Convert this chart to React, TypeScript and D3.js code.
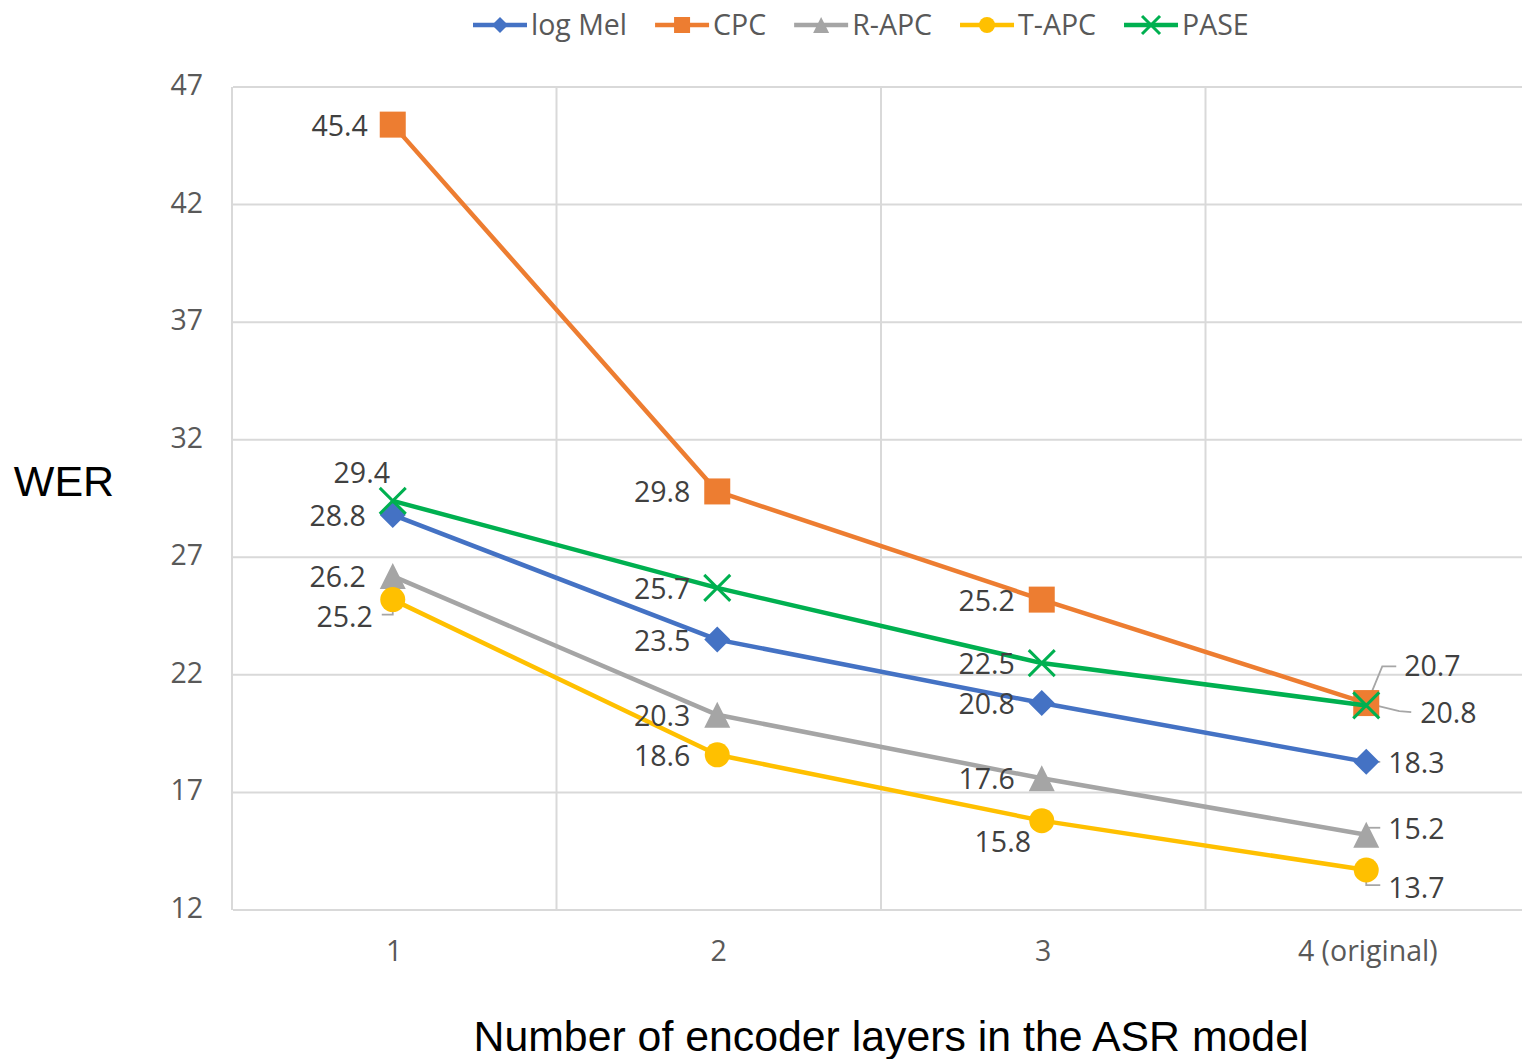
import React, { useEffect, useRef } from "react";
import * as d3 from "d3";

const categories = ["1", "2", "3", "4 (original)"];
const seriesNames = ["log Mel", "CPC", "R-APC", "T-APC", "PASE"];
const logMel = [28.8, 23.5, 20.8, 18.3];
const cpc = [45.4, 29.8, 25.2, 20.8];
const rApc = [26.2, 20.3, 17.6, 15.2];
const tApc = [25.2, 18.6, 15.8, 13.7];
const pase = [29.4, 25.7, 22.5, 20.7];
const yTicks = [12, 17, 22, 27, 32, 37, 42, 47];

const colors = ["#4472C4", "#ED7D31", "#A5A5A5", "#FFC000", "#00B050"];
const markers = ["diamond", "square", "triangle", "circle", "x"];

// label layout: [dx, dy, anchor] relative to point
const labelLayout: [number, number, string][][] = [
  [[-27, 0, "end"], [-27, 0, "end"], [-27, 0, "end"], [22, 0, "start"]],
  [[-25, 0, "end"], [-27, 0, "end"], [-27, 0, "end"], [54, 9, "start"]],
  [[-27, 0, "end"], [-27, 0, "end"], [-27, 0, "end"], [22, -7, "start"]],
  [[-20, 16, "end"], [-27, 0, "end"], [-39, 20, "middle"], [22, 17, "start"]],
  [[-31, -29, "middle"], [-27, 0, "end"], [-27, 0, "end"], [38, -40, "start"]],
];
// leader lines (relative to point), null = none
const leaders: ([number, number][] | null)[][] = [
  [null, null, null, [[0, 0], [14, 0]]],
  [null, null, null, [[0, 0], [33, 8], [45, 9]]],
  [null, null, null, [[0, -7], [14, -7]]],
  [[[0, 4], [0, 15], [-11, 15]], null, null, [[0, 0], [0, 15], [14, 15]]],
  [null, null, null, [[0, 0], [16, -39], [30, -39]]],
];

const FONT = "'Open Sans', sans-serif";
const FS = 28.5;
const TXT = "#595959";

export default function App() {
  const ref = useRef<SVGSVGElement>(null);
  useEffect(() => {
    document.body.style.margin = "0";
    const svg = d3.select(ref.current);
    svg.selectAll("*").remove();
    const data = [logMel, cpc, rApc, tApc, pase];

    const x = d3.scaleBand<string>().domain(categories).range([232, 1530]);
    const y = d3.scaleLinear().domain([12, 47]).range([910, 87]);
    const cx = (c: string) => (x(c) as number) + x.bandwidth() / 2 - 1.5;

    // gridlines
    const g = svg.append("g");
    g.selectAll("line.h").data(yTicks).join("line")
      .attr("x1", 233).attr("x2", 1530)
      .attr("y1", (d) => y(d)).attr("y2", (d) => y(d))
      .attr("stroke", "#D9D9D9").attr("stroke-width", 2);
    const vx = categories.map((c) => x(c) as number);
    g.selectAll("line.v").data(vx).join("line")
      .attr("x1", (d) => d).attr("x2", (d) => d)
      .attr("y1", 87).attr("y2", 910)
      .attr("stroke", "#D9D9D9").attr("stroke-width", 2);

    // y tick labels
    svg.append("g").selectAll("text").data(yTicks).join("text")
      .attr("x", 203).attr("y", (d) => y(d) - 3)
      .attr("text-anchor", "end").attr("dominant-baseline", "central")
      .attr("font-family", FONT).attr("font-size", FS).attr("fill", TXT)
      .text((d) => d);
    // x tick labels
    svg.append("g").selectAll("text").data(categories).join("text")
      .attr("x", (d) => (x(d) as number) + x.bandwidth() / 2).attr("y", 950)
      .attr("text-anchor", "middle").attr("dominant-baseline", "central")
      .attr("font-family", FONT).attr("font-size", FS).attr("fill", TXT)
      .text((d) => d);

    // axis titles
    svg.append("text").attr("x", 64).attr("y", 481)
      .attr("text-anchor", "middle").attr("dominant-baseline", "central")
      .attr("font-family", "'Liberation Sans', Arial, sans-serif").attr("font-size", 43)
      .attr("fill", "#000").text("WER");
    svg.append("text").attr("x", 891).attr("y", 1036)
      .attr("text-anchor", "middle").attr("dominant-baseline", "central")
      .attr("font-family", "'Liberation Sans', Arial, sans-serif").attr("font-size", 42.8)
      .attr("fill", "#000").text("Number of encoder layers in the ASR model");

    const drawMarker = (sel: any, type: string, color: string, s: number) => {
      if (type === "diamond") {
        sel.append("path").attr("d", `M0,${-s}L${s},0L0,${s}L${-s},0Z`).attr("fill", color);
      } else if (type === "square") {
        sel.append("rect").attr("x", -s).attr("y", -s).attr("width", 2 * s).attr("height", 2 * s).attr("fill", color);
      } else if (type === "triangle") {
        sel.append("path").attr("d", `M0,${-s}L${s},${s}L${-s},${s}Z`).attr("fill", color);
      } else if (type === "circle") {
        sel.append("circle").attr("r", s).attr("fill", color);
      } else {
        sel.append("path").attr("d", `M${-s},${-s}L${s},${s}M${s},${-s}L${-s},${s}`)
          .attr("stroke", color).attr("stroke-width", 3).attr("fill", "none");
      }
    };

    const line = d3.line<number>().x((_, i) => cx(categories[i])).y((d) => y(d));

    // leaders
    const lg = svg.append("g");
    data.forEach((vals, si) => {
      vals.forEach((v, i) => {
        const L = leaders[si][i];
        if (!L) return;
        const px = cx(categories[i]);
        const py = y(v);
        lg.append("path")
          .attr("d", d3.line()(L.map(([a, b]) => [px + a, py + b]) as any))
          .attr("stroke", "#A6A6A6").attr("stroke-width", 1.8).attr("fill", "none");
      });
    });

    data.forEach((vals, si) => {
      const sg = svg.append("g");
      sg.append("path").attr("d", line(vals)).attr("stroke", colors[si])
        .attr("stroke-width", 4.5).attr("fill", "none").attr("stroke-linejoin", "round");
      vals.forEach((v, i) => {
        const mg = sg.append("g").attr("transform", `translate(${cx(categories[i])},${y(v)})`);
        drawMarker(mg, markers[si], colors[si], markers[si] === "circle" ? 12.5 : 13);
      });
    });

    // labels
    data.forEach((vals, si) => {
      vals.forEach((v, i) => {
        const [dx, dy, anchor] = labelLayout[si][i];
        svg.append("text")
          .attr("x", cx(categories[i]) + dx).attr("y", y(v) + dy)
          .attr("text-anchor", anchor).attr("dominant-baseline", "central")
          .attr("font-family", FONT).attr("font-size", FS).attr("fill", "#404040")
          .text(v.toFixed(1));
      });
    });

    // legend
    const leg = svg.append("g");
    let lx = 473;
    seriesNames.forEach((name, si) => {
      const it = leg.append("g");
      it.append("line").attr("x1", lx).attr("x2", lx + 54).attr("y1", 25).attr("y2", 25)
        .attr("stroke", colors[si]).attr("stroke-width", 4.5);
      const mg = it.append("g").attr("transform", `translate(${lx + 27},25)`);
      drawMarker(mg, markers[si], colors[si], markers[si] === "x" ? 9 : 8);
      const t = it.append("text").attr("x", lx + 58).attr("y", 24)
        .attr("dominant-baseline", "central")
        .attr("font-family", FONT).attr("font-size", FS).attr("fill", TXT).text(name);
      const w = (t.node() as SVGTextElement).getComputedTextLength();
      lx = lx + 58 + w + 28;
    });
  }, []);
  return <svg ref={ref} width={1522} height={1059} style={{ display: "block", background: "#fff" }} />;
}
